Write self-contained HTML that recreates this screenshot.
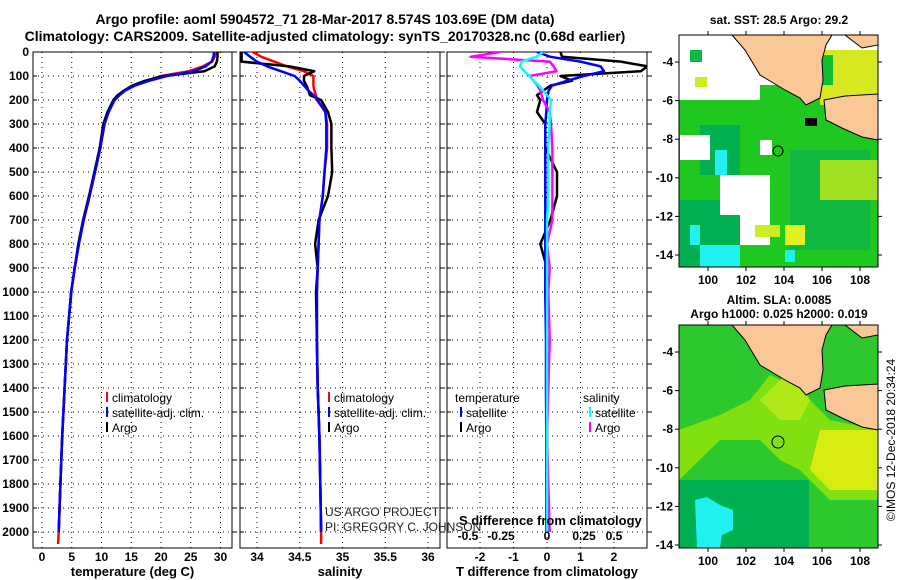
<!DOCTYPE html>
<html><head><meta charset="utf-8"><style>
body{margin:0;background:#fff;}
svg{display:block;font-family:"Liberation Sans",sans-serif;}
.b{font-weight:bold;}
</style></head><body>
<svg id="c" width="900" height="580" viewBox="0 0 900 580">
<text x="325" y="24" text-anchor="middle" class="b" font-size="14">Argo profile: aoml 5904572_71 28-Mar-2017 8.574S 103.69E (DM data)</text>
<text x="325" y="41" text-anchor="middle" class="b" font-size="14">Climatology: CARS2009. Satellite-adjusted climatology: synTS_20170328.nc (0.68d earlier)</text>
<g id="panels"></g>
<g>
<text x="779" y="24" text-anchor="middle" class="b" font-size="12">sat. SST: 28.5 Argo: 29.2</text>
<rect x="679" y="35" width="199" height="232" fill="#fff"/>
<rect x="679" y="100" width="199" height="167" fill="#1ec81e"/>
<rect x="760" y="85" width="118" height="30" fill="#1ec81e"/>
<rect x="700" y="125" width="40" height="50" fill="#00b050"/>
<rect x="680" y="200" width="60" height="67" fill="#00b050"/>
<rect x="790" y="150" width="80" height="100" fill="#10b840"/>
<rect x="820" y="160" width="58" height="40" fill="#a0e020"/>
<rect x="680" y="135" width="30" height="25" fill="#fff"/>
<rect x="720" y="175" width="50" height="40" fill="#fff"/>
<rect x="740" y="215" width="30" height="30" fill="#fff"/>
<rect x="700" y="245" width="40" height="22" fill="#20f0f0"/>
<rect x="715" y="150" width="12" height="25" fill="#20f0f0"/>
<rect x="690" y="225" width="10" height="20" fill="#20f0f0"/>
<rect x="760" y="140" width="12" height="15" fill="#fff"/>
<rect x="785" y="250" width="10" height="12" fill="#20f0f0"/>
<rect x="820" y="50" width="58" height="55" fill="#d8e820"/>
<rect x="808" y="55" width="25" height="30" fill="#10c030"/>
<rect x="690" y="50" width="12" height="12" fill="#10b840"/>
<rect x="695" y="77" width="12" height="10" fill="#c8f020"/>
<rect x="755" y="225" width="25" height="12" fill="#c8f020"/>
<rect x="785" y="225" width="20" height="20" fill="#e0f020"/>
<polygon points="732,35 745,50 760,75 785,90 800,98 806,105 820,98 823,80 822,60 826,45 832,35" fill="#f9c896" stroke="#000" stroke-width="1"/>
<polygon points="824,100 845,96 878,94 878,140 862,137 842,128 826,120" fill="#f9c896" stroke="#000" stroke-width="1"/>
<polygon points="845,35 878,35 878,45 862,48" fill="#f9c896" stroke="#000" stroke-width="1"/>
<rect x="805" y="118" width="12" height="8" fill="#000"/>
<circle cx="778" cy="151" r="5" fill="none" stroke="#000"/>
<rect x="679" y="35" width="199" height="232" fill="none" stroke="#000"/>
</g>
<g>
<text x="779" y="304" text-anchor="middle" class="b" font-size="12">Altim. SLA: 0.0085</text>
<text x="779" y="318" text-anchor="middle" class="b" font-size="12">Argo h1000: 0.025 h2000: 0.019</text>
<rect x="679" y="325" width="199" height="223" fill="#2dc82d"/>
<polygon points="679,430 720,415 750,400 770,375 800,390 830,420 878,430 878,500 830,500 800,470 780,460 760,440 720,440 679,480" fill="#80e010"/>
<polygon points="820,430 878,430 878,490 830,490 810,470" fill="#d8ec10"/>
<polygon points="760,400 790,370 810,400 800,420 780,420" fill="#b0e818"/>
<polygon points="765,520 780,510 790,540 770,548" fill="#b0e818"/>
<rect x="679" y="480" width="130" height="68" fill="#00b050"/>
<polygon points="695,500 707,497 720,505 733,510 733,530 722,535 720,548 697,548" fill="#20f0f0"/>
<polygon points="732,325 745,340 760,365 785,380 800,388 806,395 820,388 823,370 822,350 826,335 832,325" fill="#f9c896" stroke="#000"/>
<polygon points="824,390 845,386 878,384 878,430 862,427 842,418 826,410" fill="#f9c896" stroke="#000"/>
<polygon points="845,325 878,325 878,335 862,338" fill="#f9c896" stroke="#000"/>
<circle cx="778" cy="442" r="6" fill="none" stroke="#000"/>
<rect x="679" y="325" width="199" height="223" fill="none" stroke="#000"/>
</g>
<text transform="translate(895,440) rotate(-90)" text-anchor="middle" font-size="12">©IMOS 12-Dec-2018 20:34:24</text>
<text x="325" y="516" font-size="12" fill="#222">US ARGO PROJECT</text>
<text x="325" y="531" font-size="12" fill="#222">PI: GREGORY C. JOHNSON</text>
</svg>
<script>
var depths=[0,20,40,60,80,100,120,140,160,180,200,250,300,400,500,600,700,800,900,1000,1200,1400,1600,1800,2000,2050];
var tempClim=[29.2,29.0,28.6,27,24.7,20,17.5,15.5,14,13,12.2,11.2,10.5,9.8,8.9,8.0,7.0,6.2,5.5,4.9,4.2,3.8,3.4,3.1,2.8,2.7];
var tempSat=[28.9,28.8,28.5,27.5,25.5,21,18,15.6,14,13,12.2,11.2,10.5,9.8,8.9,8.0,7.0,6.2,5.5,4.9,4.2,3.8,3.4,3.1,2.8];
var tempArgo=[29.5,29.5,29.4,29.0,27.3,20.5,17.3,15.2,13.8,12.7,12.0,11.0,10.3,9.7,8.8,7.9,6.9,6.1,5.5,4.9,4.2,3.8,3.4,3.1,2.8];
var salClim=[33.95,34.05,34.2,34.35,34.55,34.66,34.66,34.66,34.67,34.69,34.7,34.8,34.82,34.82,34.79,34.77,34.73,34.72,34.71,34.70,34.70,34.71,34.73,34.74,34.75,34.75];
var salSat=[33.85,33.92,34.0,34.12,34.28,34.44,34.5,34.55,34.6,34.66,34.71,34.8,34.81,34.81,34.79,34.77,34.73,34.72,34.71,34.70,34.70,34.71,34.73,34.74,34.75];
var salArgo=[33.82,33.82,33.82,34.38,34.67,34.55,34.55,34.58,34.6,34.62,34.75,34.83,34.87,34.87,34.88,34.83,34.72,34.68,34.71,34.69,34.70,34.71,34.73,34.74,34.75];
var tDiffSat=[-0.3,0.1,1.0,1.6,1.7,1.1,0.6,0.15,0.05,0.02,0,-0.02,-0.05,-0.05,-0.05,-0.05,-0.05,-0.05,-0.05,-0.05,-0.03,-0.03,-0.02,-0.02,-0.02];
var tDiffArgo=[0.4,0.45,2.2,3.0,2.8,0.4,0.75,0.1,-0.1,-0.3,-0.2,-0.3,-0.05,-0.05,0.3,0.3,0.1,-0.2,0,-0.05,0,-0.02,0,0,0];
var sDiffArgo=[-0.35,-0.57,0.02,0.05,0.07,-0.13,-0.1,-0.07,-0.05,-0.04,-0.03,0.02,0.03,0.04,0.04,0.04,0.04,0.0,0.02,0.01,0.02,0.01,0.0,0.01,0.02];
var sDiffSat=[-0.03,-0.08,-0.19,-0.2,-0.17,-0.13,-0.1,-0.06,-0.03,0,0.03,0.02,0.02,0.01,0.01,0.01,0.0,0.0,0.0,0.0,0.0,0.0,0.0,0.0,0.0];
var depthTicks=[0,100,200,300,400,500,600,700,800,900,1000,1100,1200,1300,1400,1500,1600,1700,1800,1900,2000];
var tempTicks=[0,5,10,15,20,25,30];
var salTicks=[34,34.5,35,35.5,36];
var tdTicks=[-2,-1,0,1,2];
var sdTickLabels=["-0.5","-0.25","0","0.25","0.5"];
var sdTickVals=[-0.5,-0.25,0,0.25,0.5];

var NS="http://www.w3.org/2000/svg";
var root=document.getElementById('panels');
function el(t,a,p){var e=document.createElementNS(NS,t);for(var k in a)e.setAttribute(k,a[k]);(p||root).appendChild(e);return e;}
var TOP=52,BOT=548;
function yD(d){return TOP+d*0.24;}
var panels=[
 {x0:33,x1:232,f:function(v){return 42+v*5.95;},ticks:tempTicks,title:"temperature (deg C)",name:"temperature-panel"},
 {x0:240,x1:440,f:function(v){return 257+(v-34)*85.5;},ticks:salTicks,title:"salinity",name:"salinity-panel"},
 {x0:447,x1:647,f:function(v){return 547+v*33.5;},ticks:tdTicks,title:"T difference from climatology",name:"difference-panel"}
];
function sx(v){return 547+v*134;}
panels.forEach(function(p,pi){
 var g=el('g',{});
 
 
 p.g=g;
 depthTicks.forEach(function(d){
  var y=yD(d);
  var l=el('line',{x1:p.x0,x2:p.x1,y1:y,y2:y,stroke:'#000','stroke-width':1,'stroke-dasharray':'1 4'},g);
  
  
  el('line',{x1:p.x0,x2:p.x0+4,y1:y,y2:y,stroke:'#000'},g);
  el('line',{x1:p.x1,x2:p.x1+5,y1:y,y2:y,stroke:'#000'},g);
  if(pi==0){var t=el('text',{x:29,y:y+4,'text-anchor':'end','font-size':12,'class':'b'},g);t.textContent=d;
   
   }
 });
 p.ticks.forEach(function(v){
  var x=p.f(v);
  var l=el('line',{x1:x,x2:x,y1:TOP,y2:BOT,stroke:'#000','stroke-width':1,'stroke-dasharray':'1 4'},g);
  
  
  var t=el('text',{x:x,y:561,'text-anchor':'middle','font-size':12,'class':'b'},g);t.textContent=v;
  
  
 });
 var tt=el('text',{x:(p.x0+p.x1)/2,y:576,'text-anchor':'middle','font-size':13,'class':'b'},g);tt.textContent=p.title;
 
 
 var fr=el('rect',{x:p.x0,y:TOP,width:p.x1-p.x0,height:BOT-TOP,fill:'none',stroke:'#000'},g);
 
 
});
function line(g,vals,fx,color,w,name){
 var pts=vals.map(function(v,i){return fx(v).toFixed(1)+','+yD(depths[i]).toFixed(1);}).join(' ');
 var pl=el('polyline',{points:pts,fill:'none',stroke:color,'stroke-width':w,'stroke-linejoin':'round'},g);
 
 
}
var P=panels;
var cp=el('clipPath',{id:'clip3'});el('rect',{x:447,y:TOP,width:200,height:BOT-TOP},cp);
line(P[0].g,tempClim,P[0].f,'#f00',2.5,'temperature-climatology-line');
line(P[0].g,tempArgo,P[0].f,'#000',2.5,'temperature-argo-line');
line(P[0].g,tempSat,P[0].f,'#00f',2.5,'temperature-satellite-line');
line(P[1].g,salClim,P[1].f,'#f00',2.5,'salinity-climatology-line');
line(P[1].g,salArgo,P[1].f,'#000',2.5,'salinity-argo-line');
line(P[1].g,salSat,P[1].f,'#00f',2.5,'salinity-satellite-line');
var dg=el('g',{'clip-path':'url(#clip3)'},P[2].g);
line(dg,tDiffArgo,P[2].f,'#000',2.5,'t-diff-argo-line');
line(dg,tDiffSat,P[2].f,'#00f',2.5,'t-diff-satellite-line');
line(dg,sDiffArgo,sx,'#f0f',2.5,'s-diff-argo-line');
line(dg,sDiffSat,sx,'#0ff',2.5,'s-diff-satellite-line');
var st=el('text',{x:459,y:525,'font-size':13,'class':'b'},P[2].g);st.textContent='S difference from climatology';


sdTickVals.forEach(function(v,i){
 var x=[468,501,547,584,614][i];
 var t=el('text',{x:x,y:540,'text-anchor':'middle','font-size':12,'class':'b'},P[2].g);t.textContent=sdTickLabels[i];
 
 
});
function leg(g,x,y,color,label){
 el('line',{x1:x,x2:x,y1:y-10,y2:y,stroke:color,'stroke-width':2},g);
 var t=el('text',{x:x+5,y:y,'font-size':12},g);t.textContent=label;
 
 
}
[[P[0].g,107],[P[1].g,329]].forEach(function(a){
 leg(a[0],a[1],402,'#f00','climatology');
 leg(a[0],a[1],417,'#00f','satellite-adj. clim.');
 leg(a[0],a[1],432,'#000','Argo');
});
var t1=el('text',{x:455,y:402,'font-size':12},P[2].g);t1.textContent='temperature';


var t2=el('text',{x:583,y:402,'font-size':12},P[2].g);t2.textContent='salinity';


leg(P[2].g,461,417,'#00f','satellite');
leg(P[2].g,461,432,'#000','Argo');
leg(P[2].g,590,417,'#0ff','satellite');
leg(P[2].g,590,432,'#f0f','Argo');
function mapAxes(top,bot,latY0){
 [100,102,104,106,108].forEach(function(lon){
  var x=708+(lon-100)*19;
  el('line',{x1:x,x2:x,y1:bot,y2:bot+4,stroke:'#000'});
  el('line',{x1:x,x2:x,y1:top,y2:top-4,stroke:'#000'});
  var t=el('text',{x:x,y:bot+17,'text-anchor':'middle','font-size':12,'class':'b'});t.textContent=lon;
  
  
 });
 [-4,-6,-8,-10,-12,-14].forEach(function(lat){
  var y=latY0+(-4-lat)*19.3;
  el('line',{x1:675,x2:679,y1:y,y2:y,stroke:'#000'});
  el('line',{x1:878,x2:882,y1:y,y2:y,stroke:'#000'});
  var t=el('text',{x:673,y:y+4,'text-anchor':'end','font-size':12,'class':'b'});t.textContent=lat;
  
  
 });
}
mapAxes(35,267,62);
mapAxes(325,548,352);
</script>
</body></html>
